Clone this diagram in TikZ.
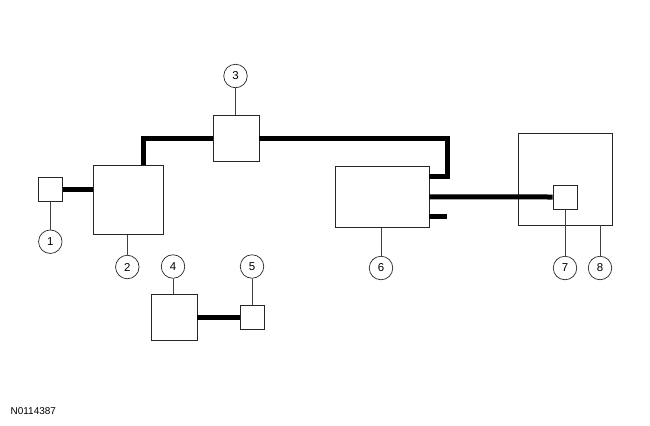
\documentclass[tikz,border=0pt]{standalone}
\usepackage{fontspec}
\setmainfont{Liberation Sans}
\begin{document}
\begin{tikzpicture}[x=1bp,y=-1bp,
  box/.style={draw=black!85,line width=0.8bp,rectangle,inner sep=0pt,minimum width=#1},
  callout/.style={draw=black!85,line width=0.7bp,circle,inner sep=0pt,minimum size=23.5bp,font=\fontsize{11.5}{13}\selectfont},
  leader/.style={draw=black!75,line width=0.7bp},
  wire/.style={line width=5bp,line join=miter}]
\useasboundingbox (0,0) rectangle (650,425);
% boxes
\node[box=24bp,minimum height=24bp] (b1) at (50.3,189) {};
\node[box=70bp,minimum height=69bp] (b2) at (128.3,199.8) {};
\node[box=46bp,minimum height=46bp] (b3) at (236,138) {};
\node[box=46bp,minimum height=46bp] (b4) at (174,317) {};
\node[box=24bp,minimum height=24bp] (b5) at (252,317) {};
\node[box=94bp,minimum height=61bp] (b6) at (382,196.8) {};
\node[box=94bp,minimum height=92bp] (b8) at (565,179) {};
\node[box=24bp,minimum height=24bp] (b7) at (565,197) {};
% callouts
\node[callout] (c1) at (50.3,241.7) {1};
\node[callout] (c2) at (127.3,267) {2};
\node[callout] (c3) at (235.5,76) {3};
\node[callout] (c4) at (173,266.5) {4};
\node[callout] (c5) at (252,266.5) {5};
\node[callout] (c6) at (381,268) {6};
\node[callout] (c7) at (565,268) {7};
\node[callout] (c8) at (600,268) {8};
% leaders
\draw[leader] (b1.south) -- (c1.north);
\draw[leader] (b2.south -| c2) -- (c2.north);
\draw[leader] (c3.south) -- (c3.south |- b3.north);
\draw[leader] (c4.south) -- (c4.south |- b4.north);
\draw[leader] (c5.south) -- (c5.south |- b5.north);
\draw[leader] (b6.south -| c6) -- (c6.north);
\draw[leader] (b7.south) -- (c7.north);
\draw[leader] (b8.south -| c8) -- (c8.north);
% wires
\coordinate (k1) at (143.3,138);
\coordinate (k2) at (447,138);
\coordinate (stub) at (447,216.5);
\draw[wire] (b1.east) -- (b1.east -| b2.west);
\draw[wire] (k1 |- b2.north) -- (k1) -- (b3.west);
\draw[wire] (b3.east) -- (k2) |- ([yshift=20bp]b6.east);
\draw[wire] (b6.east) -- (b7.west);
\draw[wire] (stub -| b6.east) -- (stub);
\draw[wire] (b4.east) -- (b5.west);
% figure number
\node[anchor=base west,inner sep=0pt,font=\fontsize{10}{12}\selectfont] (fig) at (10.5,414) {N0114387};
\end{tikzpicture}
\end{document}
